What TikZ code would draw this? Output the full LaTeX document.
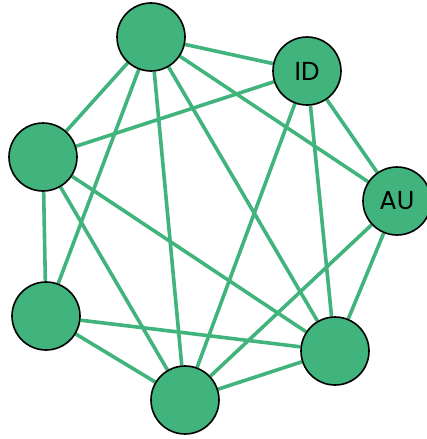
\documentclass[tikz,border=0pt]{standalone}
\usepackage{fontspec}
\setmainfont{Poppins}
\definecolor{nodegreen}{RGB}{65,179,125}
\pgfdeclarelayer{background}
\pgfsetlayers{background,main}
\begin{document}
\begin{tikzpicture}[x=1pt,y=-1pt,
  vert/.style={circle,draw=black,line width=1.6pt,fill=nodegreen,minimum size=68pt,inner sep=0pt},
  lbl/.style={font=\fontsize{26pt}{30pt}\selectfont},
  link/.style={draw=nodegreen,line width=3.6pt}]
\useasboundingbox (0,0) rectangle (427,439);
\node[vert] (top) at (151,37) {};
\node[vert,lbl] (id) at (307,71) {ID};
\node[vert] (left) at (43,157) {};
\node[vert,lbl] (au) at (397,201) {AU};
\node[vert] (bl) at (46,316) {};
\node[vert] (br) at (335,351) {};
\node[vert] (bot) at (185,400) {};
\begin{pgfonlayer}{background}
\foreach \a/\b in {top/id,top/left,top/bl,top/bot,top/br,top/au,id/left,id/bot,id/br,id/au,left/bl,left/bot,left/br,au/bot,au/br,bl/bot,bl/br,bot/br}
  \draw[link] (\a) -- (\b);
\end{pgfonlayer}
\end{tikzpicture}
\end{document}
